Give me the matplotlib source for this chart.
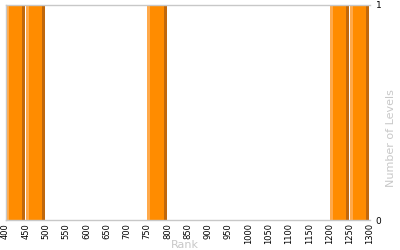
import matplotlib
matplotlib.use("Agg")
import matplotlib.pyplot as plt

bin_starts = [400, 450, 750, 1200, 1250]
bin_width = 50
levels = [1, 1, 1, 1, 1]
xticks = list(range(400, 1301, 50))
yticks = [0, 1]

fig = plt.figure(figsize=(4, 2.5), dpi=100)
ax = fig.add_axes([5.5/400, 1-220/250, (370-5.5)/400, (220-5)/250])

main_c = "#FF8C00"
light_c = "#FFA94A"
dark_c = "#C0680C"
w = bin_width - 2.5
stripe = 7
for s, v in zip(bin_starts, levels):
    ax.bar(s + 0.5, v, width=w, align="edge", color=main_c, linewidth=0)
    ax.bar(s + 0.5, v, width=stripe, align="edge", color=light_c, linewidth=0)
    ax.bar(s + 0.5 + w - stripe, v, width=stripe, align="edge", color=dark_c, linewidth=0)

ax.set_xlim(400, 1300)
ax.set_ylim(0, 1)
ax.set_xticks(xticks)
ax.set_xticklabels([str(t) for t in xticks], rotation=90, fontsize=6, va="top", ha="center")
ax.yaxis.tick_right()
ax.set_yticks(yticks)
ax.set_yticklabels([str(t) for t in yticks], fontsize=6.5)
ax.tick_params(axis="both", length=0, pad=2)
ax.tick_params(axis="y", pad=4)

for side in ["top", "left", "bottom"]:
    ax.spines[side].set_color("#C8C8C8")
    ax.spines[side].set_linewidth(1)
ax.spines["right"].set_visible(False)

fig.text(185/400, 1-245/250, "Rank", color="#C8C8C8", fontsize=8, ha="center", va="center")
fig.text(391/400, 1-138/250, "Number of Levels", color="#C8C8C8", fontsize=8,
         rotation=90, ha="center", va="center")

fig.savefig("out.png", dpi=100)
